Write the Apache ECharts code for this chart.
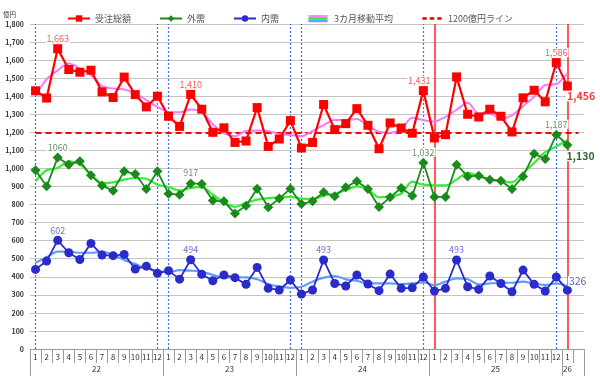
<!DOCTYPE html>
<html><head><meta charset="utf-8">
<script src="https://cdn.jsdelivr.net/npm/echarts@6/dist/echarts.min.js"></script>
<style>html,body{margin:0;padding:0;background:#fff}#c{width:600px;height:379px}</style>
</head><body><div id="c"></div>
<script>
const years = ['22','23','24','25','26'];
const months = ['1','2','3','4','5','6','7','8','9','10','11','12'];
const total = [1430,1390,1663,1548,1533,1544,1424,1393,1506,1409,1341,1400,
  1289,1233,1410,1328,1200,1225,1144,1152,1337,1122,1163,1265,
  1113,1144,1354,1215,1248,1331,1239,1109,1252,1224,1195,1431,
  1169,1187,1507,1300,1285,1328,1289,1202,1391,1433,1369,1586,
  1456];
const external = [990,901,1060,1021,1040,962,905,877,984,969,886,984,
  860,855,917,914,822,818,750,794,888,785,833,888,
  803,818,868,846,896,929,886,787,840,892,849,1032,
  842,842,1021,956,960,938,932,886,956,1082,1052,1187,
  1130];
const internal = [441,487,602,533,496,585,520,517,524,443,459,419,
  434,387,494,414,378,410,395,358,452,336,327,382,
  304,327,493,363,349,410,360,323,415,336,339,399,
  321,336,493,345,330,404,363,317,437,358,321,399,
  326];
const maTotal = [1405,1494,1544,1581,1554,1517,1456,1443,1437,1415,1378,1341,
  1313,1311,1326,1313,1245,1195,1178,1208,1210,1207,1190,1185,
  1178,1208,1240,1268,1268,1274,1236,1203,1198,1218,1281,1267,
  1260,1286,1325,1364,1304,1303,1276,1294,1345,1397,1462,1468,
  1525];
const maExternal = [929,990,1003,1040,1021,966,920,923,938,947,943,910,
  897,877,892,896,855,813,787,809,827,836,840,842,
  833,831,849,860,879,901,886,840,846,860,927,910,
  906,906,938,975,956,938,929,923,975,1030,1090,1122,
  1156];
const maInternal = [478,508,539,539,533,533,539,520,493,470,446,434,
  424,437,434,428,410,395,397,397,386,360,345,339,
  345,373,395,404,386,378,363,363,363,360,363,369,
  354,373,391,386,358,363,367,367,373,363,354,363,
  349];
const refValue = 1200;
const blueMarks = ['22/1','22/12','23/1','23/12','24/1','24/12','25/12'];
const redMarks = ['25/1','26/1'];
const yearLabelAt = {6:'22', 18:'23', 30:'24', 42:'25', 48:'26'};

const categories = [];
years.forEach(y => months.forEach(m => categories.push(y + '/' + m)));
categories.length = 50; // 22/1 .. 26/2 (last slot empty)

const FONT = "'Noto Sans CJK JP', 'Noto Sans', sans-serif";

const totalLabels = {
  2: ['1,663', {}], 14: ['1,410', {}], 35: ['1,431', {offset:[-4,0]}], 47: ['1,586', {}],
  48: ['1,456', {position:'right', distance:0, offset:[-6,10], fontSize:10.5, fontWeight:'bold', color:'#ff3b3b'}]
};
const extLabels = {
  2: ['1060', {}], 14: ['917', {}], 35: ['1,032', {}], 47: ['1,187', {}],
  48: ['1,130', {position:'right', distance:0, offset:[-7,11], fontSize:10.5, fontWeight:'bold', color:'#2f6a2f'}]
};
const intLabels = {
  2: ['602', {}], 14: ['494', {}], 26: ['493', {}], 38: ['493', {}],
  48: ['326', {position:'right', distance:0, offset:[-4,-9], fontSize:10.5, color:'#5b5bd0'}]
};
function withLabels(values, specs, color) {
  return values.map((v, i) => {
    if (!specs[i]) return v;
    const [text, opt] = specs[i];
    return {value: v, label: Object.assign({
      show: true, position: 'top', distance: 1, formatter: text,
      color: color, fontSize: 9, fontFamily: FONT,
      backgroundColor: '#fff', padding: [0, 1]
    }, opt)};
  });
}

const svg = s => 'image://data:image/svg+xml;charset=utf-8,' + encodeURIComponent(s);
const maIcon = svg("<svg xmlns='http://www.w3.org/2000/svg' width='22' height='9'><rect x='0' y='0' width='22' height='3' fill='#ff88ff'/><rect x='0' y='3' width='22' height='3' fill='#33ee33'/><rect x='0' y='6' width='22' height='3' fill='#66a0ff'/></svg>");
const dashIcon = svg("<svg xmlns='http://www.w3.org/2000/svg' width='22' height='9'><rect x='0' y='3' width='5' height='3' fill='#ff0000'/><rect x='8.5' y='3' width='5' height='3' fill='#ff0000'/><rect x='17' y='3' width='5' height='3' fill='#ff0000'/></svg>");

const chart = echarts.init(document.getElementById('c'));
chart.setOption({
  animation: false,
  backgroundColor: '#fff',
  textStyle: {fontFamily: FONT},
  legend: {
    left: 62, top: 9, itemGap: 28, itemWidth: 22, itemHeight: 8,
    textStyle: {fontSize: 9, color: '#555', fontFamily: FONT},
    data: [
      {name: '受注総額'}, {name: '外需'}, {name: '内需'},
      {name: '3カ月移動平均', icon: maIcon},
      {name: '1200億円ライン', icon: dashIcon}
    ]
  },
  grid: {left: 27, right: 16, top: 24, bottom: 30},
  xAxis: [{
    type: 'category', data: categories, boundaryGap: true,
    axisLine: {show: true, lineStyle: {color: '#9a9a9a', width: 1}},
    axisTick: {show: true, interval: 0, length: 14, lineStyle: {color: '#9a9a9a'}},
    axisLabel: {interval: 0, margin: 4, fontSize: 8, color: '#333', fontFamily: FONT,
      formatter: (v, i) => i === 49 ? '' : v.split('/')[1]},
    splitLine: {show: false}
  }, {
    type: 'category', data: categories, boundaryGap: true, position: 'bottom',
    axisLine: {show: false},
    axisTick: {show: true, interval: (i) => i % 12 === 0, length: 27, lineStyle: {color: '#9a9a9a'}},
    axisLabel: {interval: 0, margin: 16, fontSize: 8, color: '#333', fontFamily: FONT,
      formatter: (v, i) => yearLabelAt[i] ? (i === 48 ? '{b|' + yearLabelAt[i] + '}' : '{a|' + yearLabelAt[i] + '}') : '',
      rich: {a: {fontSize: 8, color: '#333', padding: [0, 11, 0, 0]}, b: {fontSize: 8, color: '#333'}}},
    splitLine: {show: false}
  }],
  yAxis: {
    type: 'value', min: 0, max: 1800, interval: 100,
    name: '億円', nameLocation: 'end', nameGap: 6,
    nameTextStyle: {fontSize: 6.5, color: '#333', align: 'right', padding: [0, 14, 0, 0]},
    axisLine: {show: false}, axisTick: {show: false},
    axisLabel: {fontSize: 7, fontWeight: 'bold', color: '#333', margin: 6,
      formatter: v => v.toLocaleString('en-US')},
    splitLine: {lineStyle: {color: '#c4c4c4', width: 1}}
  },
  series: [
    {name: '3カ月移動平均', type: 'line', data: [], symbol: 'none'},
    {name: '1200億円ライン', type: 'line', data: [], symbol: 'none', z: 1,
      lineStyle: {color: '#ff0000', type: [6, 4], width: 2},
      markLine: {silent: true, symbol: 'none', z: 2, label: {show: false},
        lineStyle: {color: '#ff0000', type: [6, 4], width: 2},
        data: [[{coord: [categories[0], refValue]}, {coord: [categories[49], refValue]}]]}},
    {name: 'vlines', type: 'line', data: [], symbol: 'none', z: 1,
      markLine: {silent: true, symbol: 'none', z: 1, label: {show: false},
        data: blueMarks.map(c => ({xAxis: c, lineStyle: {color: '#3d6cf0', width: 1.2, type: [2, 2]}}))
          .concat(redMarks.map(c => ({xAxis: c, lineStyle: {color: '#ff3030', width: 1.6, type: 'solid'}})))}},
    {name: 'ma_total', type: 'line', data: maTotal, symbol: 'none', smooth: 0.3, z: 2,
      lineStyle: {color: '#ff77ff', width: 2}},
    {name: 'ma_ext', type: 'line', data: maExternal, symbol: 'none', smooth: 0.3, z: 2,
      lineStyle: {color: '#33ee33', width: 2.2}},
    {name: 'ma_int', type: 'line', data: maInternal, symbol: 'none', smooth: 0.3, z: 2,
      lineStyle: {color: '#5f9cf5', width: 2.2}},
    {name: '受注総額', type: 'line', data: withLabels(total, totalLabels, '#ff5a5a'),
      symbol: 'rect', symbolSize: 9, z: 3,
      itemStyle: {color: '#ff0000'}, lineStyle: {color: '#ff0000', width: 2.2}},
    {name: '外需', type: 'line', data: withLabels(external, extLabels, '#6b8f6b'),
      symbol: 'diamond', symbolSize: 10, z: 3,
      itemStyle: {color: '#1a8a1a'}, lineStyle: {color: '#1a8a1a', width: 1.8}},
    {name: '内需', type: 'line', data: withLabels(internal, intLabels, '#7070d8'),
      symbol: 'circle', symbolSize: 9, z: 3,
      itemStyle: {color: '#2b2bcc'}, lineStyle: {color: '#2b2bcc', width: 1.8}}
  ]
});
</script></body></html>
